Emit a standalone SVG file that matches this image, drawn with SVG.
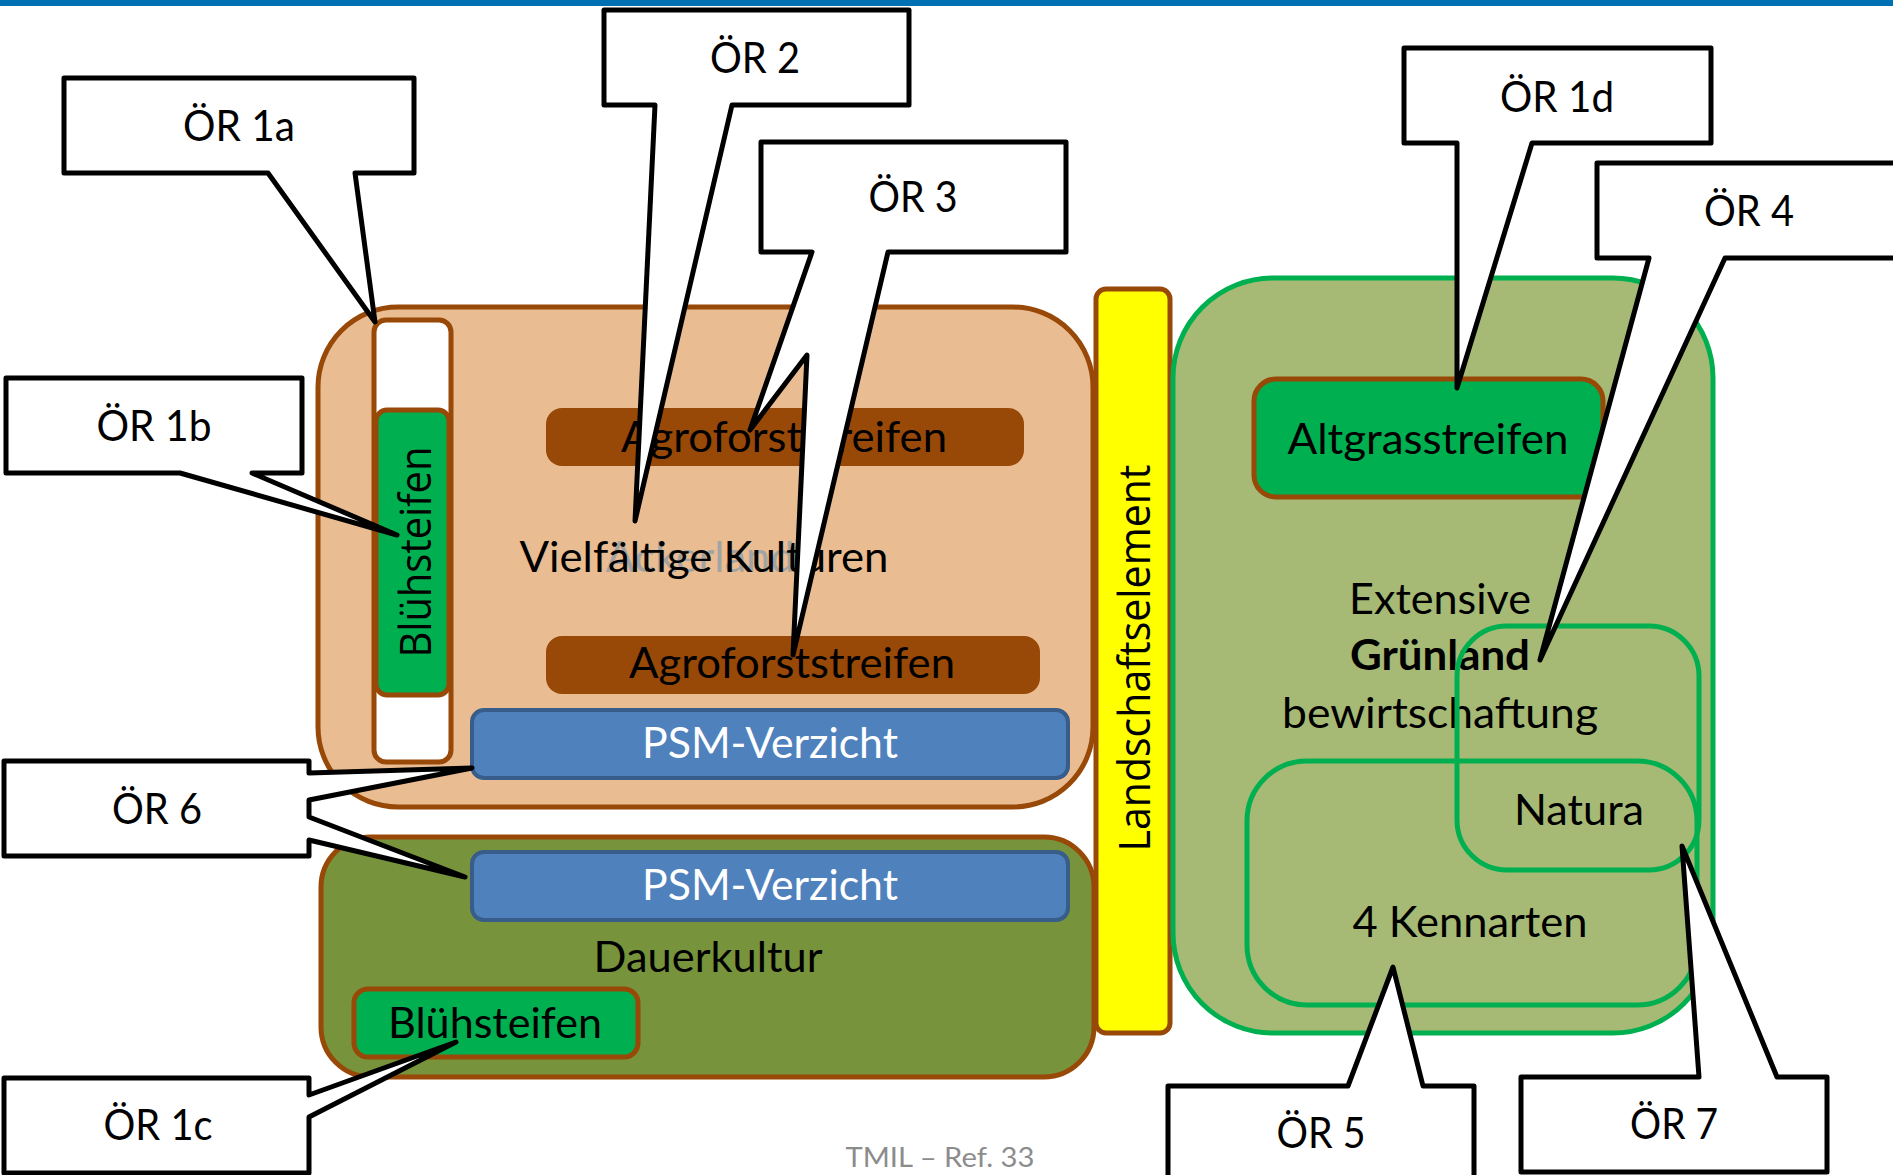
<svg xmlns="http://www.w3.org/2000/svg" width="1893" height="1175" viewBox="0 0 1893 1175">
<style>
.t{font-family:Lato,"Open Sans","Liberation Sans",sans-serif;font-size:42px;fill:#000;text-anchor:middle}
.v{font-family:"Open Sans","DejaVu Sans",sans-serif;font-size:44px;fill:#000;text-anchor:middle}
.callout{fill:#fff;stroke:#000;stroke-width:5;stroke-linejoin:round}
.brown{stroke:#984807;stroke-width:5}
</style>
<rect x="0" y="0" width="1893" height="1175" fill="#fff"/>
<rect x="0" y="0" width="1893" height="6" fill="#0070B4"/>

<g id="ackerland">
<rect x="318" y="307" width="775" height="500" rx="80" fill="#E9BC92" class="brown"/>
</g>
<g id="strip-white">
<rect x="374" y="320" width="77" height="442" rx="12" fill="#fff" class="brown"/>
</g>
<g id="bluehstreifen-v">
<rect x="376" y="410" width="73" height="285" rx="11" fill="#00B050" class="brown"/>
<text class="v" x="431" y="552" transform="rotate(-90 431 552)" textLength="211" lengthAdjust="spacingAndGlyphs">Blühsteifen</text>
</g>
<g id="agroforst-1">
<rect x="546" y="408" width="478" height="58" rx="16" fill="#984807"/>
<text class="t" x="784" y="452" textLength="326" lengthAdjust="spacingAndGlyphs">Agroforststreifen</text>
</g>
<g id="kulturen">
<text class="t" x="700" y="572" textLength="189" lengthAdjust="spacingAndGlyphs" style="fill:#A3A3A3">Ackerland</text>
<text class="t" x="704" y="572" textLength="369" lengthAdjust="spacingAndGlyphs">Vielfältige Kulturen</text>
</g>
<g id="agroforst-2">
<rect x="546" y="636" width="494" height="58" rx="16" fill="#984807"/>
<text class="t" x="792" y="678" textLength="326" lengthAdjust="spacingAndGlyphs">Agroforststreifen</text>
</g>
<g id="psm-1">
<rect x="472" y="710" width="596" height="68" rx="12" fill="#4F81BD" stroke="#385D8A" stroke-width="4"/>
<text class="t" x="770" y="758" textLength="256" lengthAdjust="spacingAndGlyphs" style="fill:#fff">PSM-Verzicht</text>
</g>

<g id="dauerkultur">
<rect x="321" y="837" width="773" height="240" rx="50" fill="#77933C" class="brown"/>
<text class="t" x="708" y="972" textLength="229" lengthAdjust="spacingAndGlyphs">Dauerkultur</text>
</g>
<g id="psm-2">
<rect x="472" y="852" width="596" height="68" rx="12" fill="#4F81BD" stroke="#385D8A" stroke-width="4"/>
<text class="t" x="770" y="900" textLength="256" lengthAdjust="spacingAndGlyphs" style="fill:#fff">PSM-Verzicht</text>
</g>
<g id="bluehstreifen-h">
<rect x="354" y="989" width="284" height="68" rx="14" fill="#00B050" class="brown"/>
<text class="t" x="495" y="1038" textLength="214" lengthAdjust="spacingAndGlyphs">Blühsteifen</text>
</g>

<g id="landschaftselement">
<rect x="1096" y="289" width="74" height="744" rx="10" fill="#FFFF00" class="brown"/>
<text class="v" x="1150" y="658" transform="rotate(-90 1150 658)" textLength="387" lengthAdjust="spacingAndGlyphs">Landschaftselement</text>
</g>

<g id="gruenland">
<rect x="1173" y="278" width="540" height="755" rx="100" fill="#A6BA75" stroke="#00B050" stroke-width="5"/>
<text class="t" x="1440" y="614" textLength="182" lengthAdjust="spacingAndGlyphs">Extensive</text>
<text class="t" x="1440" y="670" textLength="180" lengthAdjust="spacingAndGlyphs" style="font-weight:bold">Grünland</text>
<text class="t" x="1440" y="728" textLength="316" lengthAdjust="spacingAndGlyphs">bewirtschaftung</text>
</g>
<g id="altgrasstreifen">
<rect x="1254" y="379" width="349" height="118" rx="22" fill="#00B050" stroke="#984807" stroke-width="5"/>
<text class="t" x="1428" y="454" textLength="281" lengthAdjust="spacingAndGlyphs">Altgrasstreifen</text>
</g>
<g id="natura">
<rect x="1457" y="626" width="242" height="244" rx="50" fill="none" stroke="#00B050" stroke-width="5"/>
<text class="t" x="1579" y="825" textLength="130" lengthAdjust="spacingAndGlyphs">Natura</text>
</g>
<g id="kennarten">
<rect x="1247" y="761" width="450" height="244" rx="60" fill="none" stroke="#00B050" stroke-width="5"/>
<text class="t" x="1470" y="937" textLength="235" lengthAdjust="spacingAndGlyphs">4 Kennarten</text>
</g>

<g id="connectors">
<g id="or1a"><polygon class="callout" points="64,78 414,78 414,173 355,173 375,322 268,173 64,173"/><text class="t" x="239" y="141" textLength="112" lengthAdjust="spacingAndGlyphs">ÖR 1a</text></g>
<g id="or1b"><polygon class="callout" points="6,378 302,378 302,473 252,473 397,535 180,473 6,473"/><text class="t" x="154" y="441" textLength="115" lengthAdjust="spacingAndGlyphs">ÖR 1b</text></g>
<g id="or2"><polygon class="callout" points="604,10 909,10 909,105 732,105 635,521 655,105 604,105"/><text class="t" x="755" y="73" textLength="90" lengthAdjust="spacingAndGlyphs">ÖR 2</text></g>
<g id="or3"><polygon class="callout" points="761,142 1066,142 1066,252 888,252 793,655 807,355 750,430 812,252 761,252"/><text class="t" x="913" y="212" textLength="89" lengthAdjust="spacingAndGlyphs">ÖR 3</text></g>
<g id="or1d"><polygon class="callout" points="1404,48 1711,48 1711,143 1532,143 1457,388 1457,143 1404,143"/><text class="t" x="1557" y="112" textLength="114" lengthAdjust="spacingAndGlyphs">ÖR 1d</text></g>
<g id="or4"><polygon class="callout" points="1597,163 1905,163 1905,258 1725,258 1540,660 1649,258 1597,258"/><text class="t" x="1749" y="226" textLength="90" lengthAdjust="spacingAndGlyphs">ÖR 4</text></g>
<g id="or5"><polygon class="callout" points="1168,1086 1348,1086 1393,967 1423,1086 1474,1086 1474,1185 1168,1185"/><text class="t" x="1321" y="1148" textLength="89" lengthAdjust="spacingAndGlyphs">ÖR 5</text></g>
<g id="or7"><polygon class="callout" points="1521,1077 1699,1077 1682,846 1777,1077 1827,1077 1827,1172 1521,1172"/><text class="t" x="1674" y="1139" textLength="88" lengthAdjust="spacingAndGlyphs">ÖR 7</text></g>
<g id="or6"><polygon class="callout" points="4,761 309,761 309,773 472,768 309,800 309,817 465,877 309,840 309,856 4,856"/><text class="t" x="157" y="824" textLength="90" lengthAdjust="spacingAndGlyphs">ÖR 6</text></g>
<g id="or1c"><polygon class="callout" points="4,1078 309,1078 309,1095 456,1042 309,1117 309,1173 4,1173"/><text class="t" x="158" y="1140" textLength="109" lengthAdjust="spacingAndGlyphs">ÖR 1c</text></g>
</g>

<text class="t" x="940" y="1167" textLength="189" lengthAdjust="spacingAndGlyphs" style="font-size:27px;fill:#8C8C8C">TMIL – Ref.  33</text>
</svg>
